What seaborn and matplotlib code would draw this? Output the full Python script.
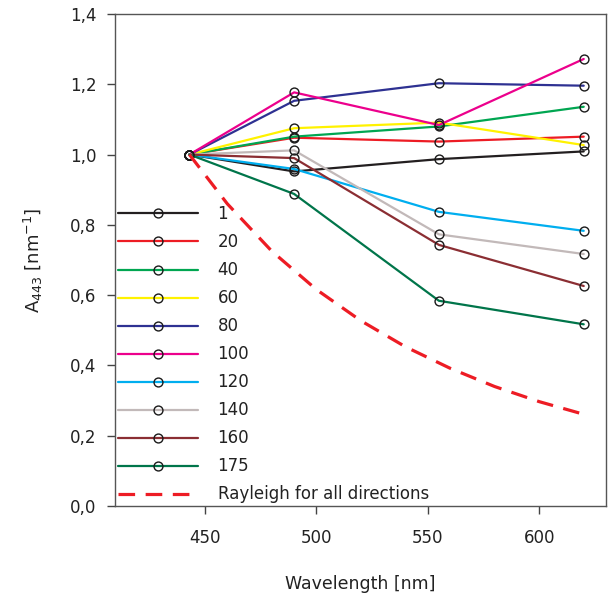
import numpy as np
import pandas as pd
import matplotlib
matplotlib.use("Agg")
import matplotlib.pyplot as plt
from matplotlib.ticker import FuncFormatter, MultipleLocator
import seaborn as sns

wavelengths = [443, 490, 555, 620]
angles = ["1", "20", "40", "60", "80", "100", "120", "140", "160", "175"]
v_1   = [1.0, 0.952, 0.987, 1.009]
v_20  = [1.0, 1.048, 1.037, 1.051]
v_40  = [1.0, 1.051, 1.080, 1.136]
v_60  = [1.0, 1.075, 1.091, 1.027]
v_80  = [1.0, 1.153, 1.203, 1.196]
v_100 = [1.0, 1.177, 1.084, 1.272]
v_120 = [1.0, 0.959, 0.837, 0.783]
v_140 = [1.0, 1.012, 0.773, 0.717]
v_160 = [1.0, 0.990, 0.743, 0.626]
v_175 = [1.0, 0.888, 0.584, 0.517]
series = [v_1, v_20, v_40, v_60, v_80, v_100, v_120, v_140, v_160, v_175]
colors = ["#231f20", "#ed1c24", "#00a651", "#fff200", "#2e3192",
          "#ec008c", "#00aeef", "#c2b9b9", "#8b2e33", "#00754a"]

ray_wl = [443, 460, 480, 500, 520, 540, 560, 580, 600, 620]
ray_v  = [1.0, 0.86, 0.725, 0.616, 0.527, 0.453, 0.392, 0.340, 0.297, 0.261]
ray_label = "Rayleigh for all directions"

sns.set_style("white")
plt.rcParams["font.family"] = ["DejaVu Sans"]
plt.rcParams["mathtext.fontset"] = "dejavusans"

fig = plt.figure(figsize=(6.09, 5.99), dpi=100)
ax = fig.add_axes([115/609, 1-506/599, (606-115)/609, (506-14)/599])

for name, vals, col in zip(angles, series, colors):
    sns.lineplot(x=wavelengths, y=vals, ax=ax, color=col, label=name,
                 linewidth=1.6, marker="o", markersize=6.4,
                 markerfacecolor="none", markeredgecolor="#1a1a1a",
                 markeredgewidth=1.0)

sns.lineplot(x=ray_wl, y=ray_v, ax=ax, color="#ed1c24", label=ray_label,
             linewidth=2.3, dashes=False, linestyle=(0, (5.2, 3.3)))

ax.set_xlim(409.6, 630)
ax.set_ylim(0, 1.4)
ax.xaxis.set_major_locator(MultipleLocator(50))
ax.yaxis.set_major_locator(MultipleLocator(0.2))
ax.yaxis.set_major_formatter(FuncFormatter(lambda v, p: f"{v:.1f}".replace(".", ",")))
ax.tick_params(axis="both", which="major", direction="out", length=5.5,
               width=1, color="#444444", labelsize=12, labelcolor="#222222",
               bottom=True, left=True)
ax.tick_params(axis="x", pad=11)
ax.tick_params(axis="y", pad=8)
for s in ax.spines.values():
    s.set_color("#555555")
    s.set_linewidth(1.0)

ax.set_xlabel("Wavelength [nm]", fontsize=12.5, color="#222222", labelpad=20)
ax.set_ylabel(r"A$_{443}$ [nm$^{-1}$]", fontsize=13, color="#222222", labelpad=18)

leg = ax.legend(loc="upper left", bbox_to_anchor=(0.0, (506-202)/492),
                frameon=False, fontsize=12, handlelength=4.8,
                handletextpad=1.15, labelspacing=0.60, borderaxespad=0,
                borderpad=0.2)
for t in leg.get_texts():
    t.set_color("#222222")

fig.savefig("out.png", dpi=100)
